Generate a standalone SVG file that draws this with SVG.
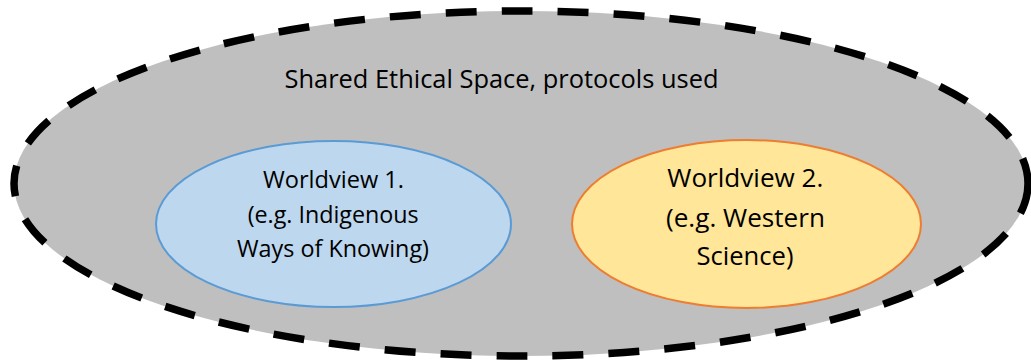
<svg xmlns="http://www.w3.org/2000/svg" width="1031" height="362" viewBox="0 0 1031 362">
<style>
text{font-family:"Open Sans","Liberation Sans",sans-serif;fill:#000;text-anchor:middle}
.t1{font-size:23px}
.t2{font-size:25px}
.t0{font-size:25px}
</style>
<rect width="1031" height="362" fill="#fff"/>
<g id="shared-space">
<ellipse cx="521" cy="183.5" rx="507" ry="172.5" fill="#bfbfbf" stroke="#000" stroke-width="7.5" stroke-dasharray="31 25"/>
<text class="t0" x="501.5" y="88" textLength="434" lengthAdjust="spacingAndGlyphs">Shared Ethical Space, protocols used</text>
</g>
<g id="worldview1">
<ellipse cx="333.5" cy="224" rx="177.5" ry="83" fill="#bdd7ee" stroke="#5b9bd5" stroke-width="2"/>
<text class="t1" x="333.5" y="188.3" textLength="141" lengthAdjust="spacingAndGlyphs">Worldview 1.</text>
<text class="t1" x="333.2" y="222.7" textLength="171" lengthAdjust="spacingAndGlyphs">(e.g. Indigenous</text>
<text class="t1" x="333" y="257" textLength="192" lengthAdjust="spacingAndGlyphs">Ways of Knowing)</text>
</g>
<g id="worldview2">
<ellipse cx="746.5" cy="224" rx="174.5" ry="84" fill="#ffe699" stroke="#ed7d31" stroke-width="2"/>
<text class="t2" x="745.3" y="186.7" textLength="156" lengthAdjust="spacingAndGlyphs">Worldview 2.</text>
<text class="t2" x="745.5" y="227" textLength="159" lengthAdjust="spacingAndGlyphs">(e.g. Western</text>
<text class="t2" x="745" y="265" textLength="97" lengthAdjust="spacingAndGlyphs">Science)</text>
</g>
<g id="connectors"/>
</svg>
